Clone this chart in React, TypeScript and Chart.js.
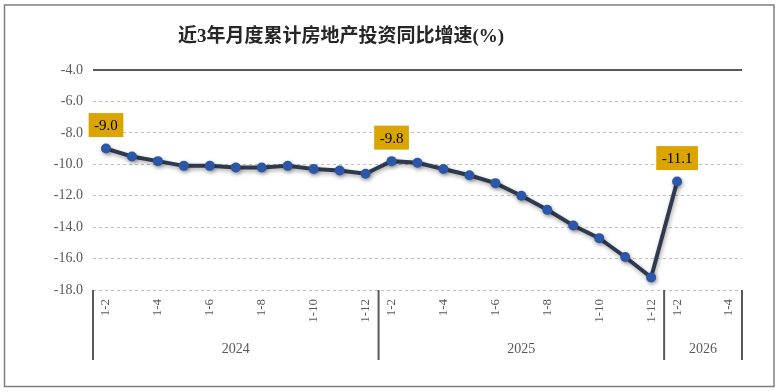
import React, { useEffect, useRef } from "react";
import { Chart, registerables } from "chart.js";

Chart.register(...registerables);

const TITLE = "近3年月度累计房地产投资同比增速(%)";

const categories = [
  "1-2", "1-3", "1-4", "1-5", "1-6", "1-7", "1-8", "1-9", "1-10", "1-11", "1-12",
  "1-2", "1-3", "1-4", "1-5", "1-6", "1-7", "1-8", "1-9", "1-10", "1-11", "1-12",
  "1-2", "1-3", "1-4",
];

const years = ["2024", "2025", "2026"];
const yearSizes = [11, 11, 3];

const values: (number | null)[] = [
  -9.0, -9.5, -9.8, -10.1, -10.1, -10.2, -10.2, -10.1, -10.3, -10.4, -10.6,
  -9.8, -9.9, -10.3, -10.7, -11.2, -12.0, -12.9, -13.9, -14.7, -15.9, -17.2,
  -11.1, null, null,
];

const labelledPoints = [0, 11, 22];

const yMin = -18;
const yMax = -4;
const yStep = 2;

const SERIF = "'Liberation Serif', 'Times New Roman', 'Noto Sans CJK SC', serif";
const AXIS_GRAY = "#595959";

const decorPlugin = {
  id: "decor",
  beforeDraw(chart: any) {
    const ctx = chart.ctx;
    ctx.save();
    ctx.fillStyle = "#ffffff";
    ctx.fillRect(0, 0, chart.width, chart.height);
    ctx.strokeStyle = "#7f7f7f";
    ctx.lineWidth = 1.5;
    ctx.strokeRect(4.5, 5, 769.5, 381.5);
    ctx.fillStyle = "#262626";
    ctx.font = `bold 19px ${SERIF}`;
    ctx.textAlign = "left";
    ctx.textBaseline = "middle";
    ctx.fillText(TITLE, 178, 37);
    ctx.restore();
  },
  beforeDatasetsDraw(chart: any) {
    const ctx = chart.ctx;
    const y = chart.scales.y.getPixelForValue(yMax);
    const { left, right } = chart.chartArea;
    ctx.save();
    ctx.strokeStyle = AXIS_GRAY;
    ctx.lineWidth = 2;
    ctx.beginPath();
    ctx.moveTo(left, y);
    ctx.lineTo(right, y);
    ctx.stroke();
    ctx.restore();
  },
  beforeDatasetDraw(chart: any) {
    const ctx = chart.ctx;
    ctx.save();
    ctx.shadowColor = "rgba(0,0,0,0.35)";
    ctx.shadowBlur = 4;
    ctx.shadowOffsetX = 1;
    ctx.shadowOffsetY = 2;
  },
  afterDatasetDraw(chart: any) {
    chart.ctx.restore();
  },
  afterDatasetsDraw(chart: any) {
    const ctx = chart.ctx;
    const meta = chart.getDatasetMeta(0);
    ctx.save();
    ctx.font = `15px ${SERIF}`;
    ctx.textAlign = "center";
    ctx.textBaseline = "middle";
    for (const i of labelledPoints) {
      const v = values[i];
      if (v == null) continue;
      const pt = meta.data[i];
      const text = v.toFixed(1);
      const w = ctx.measureText(text).width + 11;
      const h = 24;
      const cx = pt.x;
      const cy = pt.y - 23.5;
      ctx.fillStyle = "#DAA500";
      ctx.fillRect(cx - w / 2, cy - h / 2, w, h);
      ctx.fillStyle = "#000000";
      ctx.fillText(text, cx, cy + 1);
    }
    ctx.restore();
  },
  afterDraw(chart: any) {
    const ctx = chart.ctx;
    const x = chart.scales.x;
    const bottom = chart.chartArea.bottom;
    ctx.save();
    // category labels (rotated)
    ctx.fillStyle = AXIS_GRAY;
    ctx.font = `13px ${SERIF}`;
    ctx.textAlign = "right";
    ctx.textBaseline = "middle";
    categories.forEach((c, i) => {
      const month = parseInt(c.split("-")[1], 10);
      if (month % 2 !== 0) return;
      const px = x.getPixelForValue(i);
      ctx.save();
      ctx.translate(px, bottom + 9);
      ctx.rotate(-Math.PI / 2);
      ctx.fillText(c, 0, 0);
      ctx.restore();
    });
    // year dividers and labels
    let start = 0;
    const bounds: number[] = [x.getPixelForValue(-0.5)];
    yearSizes.forEach((n) => {
      start += n;
      bounds.push(x.getPixelForValue(start - 0.5));
    });
    ctx.strokeStyle = AXIS_GRAY;
    ctx.lineWidth = 2;
    bounds.forEach((bx) => {
      ctx.beginPath();
      ctx.moveTo(bx, bottom);
      ctx.lineTo(bx, bottom + 70);
      ctx.stroke();
    });
    ctx.font = `14px ${SERIF}`;
    ctx.textAlign = "center";
    ctx.textBaseline = "middle";
    years.forEach((yr, k) => {
      ctx.fillText(yr, (bounds[k] + bounds[k + 1]) / 2, bottom + 59);
    });
    ctx.restore();
  },
};

export default function App() {
  const ref = useRef<HTMLCanvasElement | null>(null);
  useEffect(() => {
    if (!ref.current) return;
    const chart = new Chart(ref.current, {
      type: "line",
      data: {
        labels: categories,
        datasets: [
          {
            data: values,
            borderColor: "#2F3A4F",
            borderWidth: 4,
            pointBackgroundColor: "#2C56A8",
            pointBorderColor: "#2C56A8",
            pointBorderWidth: 0,
            pointRadius: 5,
            tension: 0,
            spanGaps: false,
          },
        ],
      },
      options: {
        responsive: false,
        animation: false,
        layout: { padding: { left: 0, top: 70, right: 37, bottom: 102 } },
        plugins: {
          legend: { display: false },
          title: { display: false },
          tooltip: { enabled: false },
        },
        scales: {
          x: {
            display: false,
            offset: true,
          },
          y: {
            min: yMin,
            max: yMax,
            afterFit: (s: any) => {
              s.width = 93;
            },
            ticks: {
              stepSize: yStep,
              padding: 10,
              color: AXIS_GRAY,
              font: { family: SERIF, size: 14 },
              callback: (v: any) => Number(v).toFixed(1),
            },
            grid: {
              color: "#BFBFBF",
              lineWidth: 1,
              drawTicks: false,
            },
            border: { display: false, dash: [3, 3] },
          },
        },
      },
      plugins: [decorPlugin],
    });
    return () => chart.destroy();
  }, []);
  return (
    <div style={{ position: "absolute", left: 0, top: 0, width: 779, height: 392 }}>
      <canvas ref={ref} width={779} height={392} style={{ width: 779, height: 392, display: "block" }} />
    </div>
  );
}
